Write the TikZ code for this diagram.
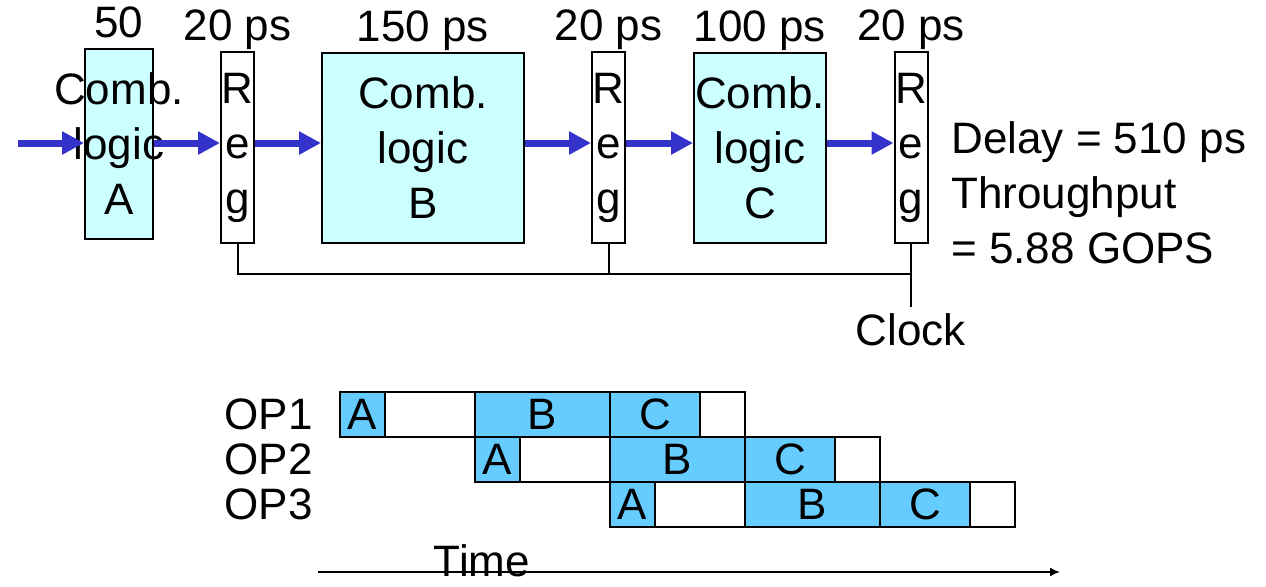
\documentclass[tikz,border=0pt]{standalone}
\usepackage{fontspec}
\setmainfont{Liberation Sans}
\usepackage{xcolor}
\usepackage{tikz}
\usetikzlibrary{positioning, arrows.meta}

\definecolor{combcyan}{HTML}{CCFFFF}
\definecolor{flowblue}{HTML}{3333CC}
\definecolor{opblue}{HTML}{66CCFF}

\begin{document}
\begin{tikzpicture}[
        x=0.5pt, y=-0.5pt,
        every node/.style={font=\fontsize{22}{27.5}\selectfont},
        combbox/.style={draw, line width=1pt, fill=combcyan, minimum height=95pt, inner sep=0pt, align=center},
        regbox/.style={draw, line width=1pt, fill=white, minimum width=16.5pt, minimum height=95.5pt, inner sep=0pt, align=center},
        delaylabel/.style={inner sep=0pt, text depth=5pt},
        flow/.style={-{Triangle[length=11pt, width=11pt]}, line width=3.5pt, flowblue},
        wire/.style={line width=1pt},
        opbox/.style={draw, line width=1pt, fill=opblue, minimum height=22.5pt, inner sep=0pt, outer sep=0pt},
        idlebox/.style={draw, line width=1pt, fill=white, minimum height=22.5pt, inner sep=0pt, outer sep=0pt},
        timeaxis/.style={-{Latex[length=5pt, width=4.5pt]}, line width=0.8pt}
    ]
    \useasboundingbox (0,0) rectangle (1266,586);

    % Pipeline stages
    \node[combbox, minimum width=34pt] (combA) at (119,144) {\makebox[0pt]{Comb.}\\\makebox[0pt]{logic}\\A};
    \node[regbox] (reg1) at (237.5,147.5) {R\\e\\g};
    \node[combbox, minimum width=101pt] (combB) at (423,147.5) {Comb.\\logic\\B};
    \node[regbox] (reg2) at (608.5,147.5) {R\\e\\g};
    \node[combbox, minimum width=66pt] (combC) at (760,147.5) {\makebox[0pt]{Comb.}\\logic\\C};
    \node[regbox] (reg3) at (911,147.5) {R\\e\\g};

    % Delays
    \node[delaylabel, above=0pt of combA] (tA) {50};
    \node[delaylabel, above=0pt of reg1] (t1) {20 ps};
    \node[delaylabel, above=0pt of combB] (tB) {150 ps};
    \node[delaylabel, above=0pt of reg2] (t2) {20 ps};
    \node[delaylabel, above=0pt of combC] (tC) {100 ps};
    \node[delaylabel, above=0pt of reg3] (t3) {20 ps};

    \node[anchor=west, align=left, inner sep=0pt] (perf) at (951,193) {Delay = 510 ps\\Throughput\\= 5.88 GOPS};

    % Data flow
    \coordinate (in) at (18,143);
    \draw[flow] (in) -- (combA.west |- in);
    \draw[flow] (combA.east |- in) -- (reg1.west |- in);
    \draw[flow] (reg1.east |- in) -- (combB.west |- in);
    \draw[flow] (combB.east |- in) -- (reg2.west |- in);
    \draw[flow] (reg2.east |- in) -- (combC.west |- in);
    \draw[flow] (combC.east |- in) -- (reg3.west |- in);

    % Clock
    \coordinate (bus) at (0,274);
    \coordinate (clk) at (911,307);
    \draw[wire] (reg1.south) |- (bus -| reg3.south);
    \draw[wire] (reg2.south) -- (reg2.south |- bus);
    \draw[wire] (reg3.south) -- (clk);
    \node[below=0pt of clk, inner sep=3pt] (clock) {Clock};

    % Pipelined timing
    \node[opbox, minimum width=22.5pt, anchor=west] (a1) at (340,414.5) {A};
    \node[idlebox, minimum width=45pt, right=0pt of a1] (w1) {};
    \node[opbox, minimum width=67.5pt, right=0pt of w1] (b1) {B};
    \node[opbox, minimum width=45pt, right=0pt of b1] (c1) {C};
    \node[idlebox, minimum width=22.5pt, right=0pt of c1] (z1) {};

    \node[opbox, minimum width=22.5pt, anchor=north west] (a2) at (b1.south west) {A};
    \node[idlebox, minimum width=45pt, right=0pt of a2] (w2) {};
    \node[opbox, minimum width=67.5pt, right=0pt of w2] (b2) {B};
    \node[opbox, minimum width=45pt, right=0pt of b2] (c2) {C};
    \node[idlebox, minimum width=22.5pt, right=0pt of c2] (z2) {};

    \node[opbox, minimum width=22.5pt, anchor=north west] (a3) at (b2.south west) {A};
    \node[idlebox, minimum width=45pt, right=0pt of a3] (w3) {};
    \node[opbox, minimum width=67.5pt, right=0pt of w3] (b3) {B};
    \node[opbox, minimum width=45pt, right=0pt of b3] (c3) {C};
    \node[idlebox, minimum width=22.5pt, right=0pt of c3] (z3) {};

    \node[inner sep=0pt, left=13.5pt of a1] (op1) {OP1};
    \node[inner sep=0pt, anchor=east] (op2) at (op1.east |- a2) {OP2};
    \node[inner sep=0pt, anchor=east] (op3) at (op1.east |- a3) {OP3};

    % Time axis
    \coordinate (t0) at (318,572);
    \coordinate (tend) at (1060,572);
    \draw[timeaxis] (t0) -- (tend);
    \node (time) at (482,561) {Time};

\end{tikzpicture}
\end{document}
